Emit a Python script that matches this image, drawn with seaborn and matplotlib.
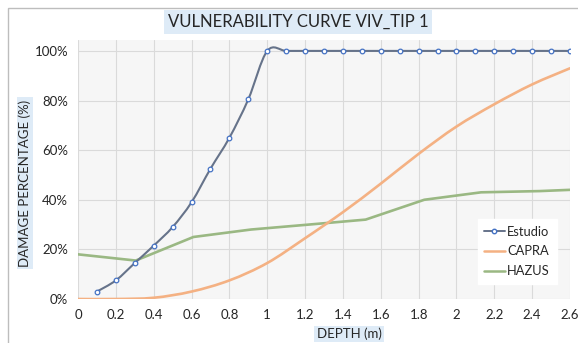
import numpy as np
import pandas as pd
import seaborn as sns
import matplotlib
matplotlib.use("Agg")
import matplotlib.pyplot as plt
from matplotlib.path import Path
from matplotlib.patches import PathPatch, Rectangle
from matplotlib.lines import Line2D
from matplotlib.ticker import PercentFormatter

# ---- data ----
estudio_depth = [0.1, 0.2, 0.3, 0.4, 0.5, 0.6, 0.7, 0.8, 0.9, 1.0, 1.1, 1.2, 1.3, 1.4,
                 1.5, 1.6, 1.7, 1.8, 1.9, 2.0, 2.1, 2.2, 2.3, 2.4, 2.5, 2.6]
estudio_dmg = [0.03, 0.075, 0.145, 0.215, 0.29, 0.39, 0.525, 0.65, 0.805, 1.0, 1.0, 1.0, 1.0, 1.0,
               1.0, 1.0, 1.0, 1.0, 1.0, 1.0, 1.0, 1.0, 1.0, 1.0, 1.0, 1.0]
capra_depth = [0.0, 0.2, 0.4, 0.6, 0.8, 1.0, 1.2, 1.4, 1.6, 1.8, 2.0, 2.2, 2.4, 2.6]
capra_dmg = [0.0, 0.0, 0.005, 0.03, 0.075, 0.145, 0.245, 0.35, 0.465, 0.585, 0.695, 0.785, 0.865, 0.93]
hazus_depth = [0.0, 0.305, 0.61, 0.914, 1.22, 1.52, 1.83, 2.13, 2.44, 2.6]
hazus_dmg = [0.18, 0.155, 0.25, 0.28, 0.30, 0.32, 0.40, 0.43, 0.435, 0.44]
x_ticks = [0, 0.2, 0.4, 0.6, 0.8, 1, 1.2, 1.4, 1.6, 1.8, 2, 2.2, 2.4, 2.6]
x_tick_labels = ["0", "0.2", "0.4", "0.6", "0.8", "1", "1.2", "1.4", "1.6", "1.8", "2", "2.2", "2.4", "2.6"]
y_ticks = [0, 0.2, 0.4, 0.6, 0.8, 1.0]
series_names = ["Estudio", "CAPRA", "HAZUS"]
title = "VULNERABILITY CURVE VIV_TIP 1"
x_label = "DEPTH (m)"
y_label = "DAMAGE PERCENTAGE (%)"

C_EST_LINE = "#66738a"
C_EST_MARK = "#4472C4"
C_CAPRA = "#F4B183"
C_HAZUS = "#9AB883"
LABEL_BG = "#DEEBF7"
TXT = "#262626"

sns.set_theme(style="white")
plt.rcParams["font.family"] = ["Lato", "DejaVu Sans"]

fig = plt.figure(figsize=(5.78, 3.43), dpi=100)
ax = fig.add_axes([78 / 578, 1 - 299 / 343, (570 - 78) / 578, (299 - 40) / 343])
ax.set_facecolor("#f6f6f6")


def smooth_patch(xs, ys, color, lw, z):
    # Excel-style smoothed line: cubic Bezier segments through the data points
    pts = np.column_stack([xs, ys]).astype(float)
    n = len(pts)
    verts = [tuple(pts[0])]
    codes = [Path.MOVETO]
    for i in range(n - 1):
        p0 = pts[max(i - 1, 0)]
        p1 = pts[i]
        p2 = pts[i + 1]
        p3 = pts[min(i + 2, n - 1)]
        c1 = p1 + (p2 - p0) / 6.0
        c2 = p2 - (p3 - p1) / 6.0
        verts += [tuple(c1), tuple(c2), tuple(p2)]
        codes += [Path.CURVE4] * 3
    return PathPatch(Path(verts, codes), facecolor="none", edgecolor=color, lw=lw,
                     zorder=z, capstyle="round", joinstyle="round")


df_h = pd.DataFrame({"depth": hazus_depth, "dmg": hazus_dmg})
sns.lineplot(data=df_h, x="depth", y="dmg", ax=ax, color=C_HAZUS, lw=1.9, zorder=3)

ax.add_patch(smooth_patch(capra_depth, capra_dmg, C_CAPRA, 1.9, 3))
ax.add_patch(smooth_patch(estudio_depth, estudio_dmg, C_EST_LINE, 1.5, 4))

df_e = pd.DataFrame({"depth": estudio_depth, "dmg": estudio_dmg})
sns.scatterplot(data=df_e, x="depth", y="dmg", ax=ax, marker="o", s=11,
                facecolor="white", edgecolor=C_EST_MARK, linewidth=0.9, zorder=5)

ax.set_xlim(0, 2.6)
ax.set_ylim(0, 1.044)
ax.set_xticks(x_ticks)
ax.set_xticklabels(x_tick_labels)
ax.set_yticks(y_ticks)
ax.yaxis.set_major_formatter(PercentFormatter(1.0, decimals=0))
ax.tick_params(axis="both", labelsize=9.5, colors=TXT, length=0, pad=7)
ax.grid(True, color="#dadada", lw=0.8)
ax.set_axisbelow(True)
for s in ax.spines.values():
    s.set_visible(False)
ax.set_xlabel("")
ax.set_ylabel("")

handles = [
    Line2D([], [], color=C_EST_LINE, lw=1.4, marker="o", ms=3.2, mfc="white", mec=C_EST_MARK),
    Line2D([], [], color=C_CAPRA, lw=1.8),
    Line2D([], [], color=C_HAZUS, lw=1.8),
]
leg = ax.legend(handles, series_names, loc="lower right",
                bbox_to_anchor=((563 - 78) / 492, (299 - 290) / 259),
                fontsize=9.3, frameon=True, facecolor="white", edgecolor="white",
                framealpha=1, fancybox=False, handlelength=1.6, handletextpad=0.2,
                borderpad=0.5, labelspacing=0.6)
for t in leg.get_texts():
    t.set_color(TXT)

fig.text(298 / 578, 1 - 22 / 343, title, ha="center", va="center", fontsize=12,
         color=TXT, bbox=dict(facecolor=LABEL_BG, edgecolor="none", pad=3))
fig.text(25 / 578, 1 - 183 / 343, y_label, ha="center", va="center", rotation=90,
         fontsize=9.5, color=TXT, bbox=dict(facecolor=LABEL_BG, edgecolor="none", pad=1.5))
fig.text(349 / 578, 1 - 334 / 343, x_label, ha="center", va="center",
         fontsize=9.5, color=TXT, bbox=dict(facecolor=LABEL_BG, edgecolor="none", pad=1.5))

fig.add_artist(Rectangle((8 / 578, -0.05), 1.0, 1 - 8 / 343 + 0.05, transform=fig.transFigure,
                         facecolor="none", edgecolor="#bdbdbd", lw=1.0))

fig.savefig("out.png", dpi=100)
